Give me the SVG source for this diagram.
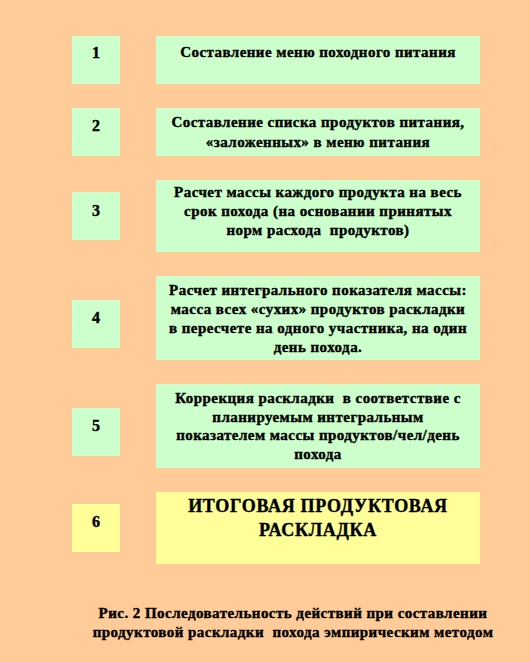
<svg xmlns="http://www.w3.org/2000/svg" width="530" height="662" viewBox="0 0 530 662">
<style>
.g{fill:#CCFFCC}
.y{fill:#FFFF99}
text{font-family:"Liberation Serif","Times New Roman",serif;font-weight:bold;fill:#000;stroke:#000;stroke-width:0.4;text-anchor:middle}
.n{font-size:16px}
.t{font-size:15px;letter-spacing:0.45px}
.b{font-size:18px;letter-spacing:0.7px}
</style>
<rect width="530" height="662" fill="#FFCC99"/>
<g id="n1"><rect class="g" x="72" y="36" width="48" height="48"/><text class="n" x="96" y="58">1</text></g>
<g id="s1"><rect class="g" x="156" y="36" width="324" height="48"/><text class="t" x="318" y="57">Составление меню походного питания</text></g>
<g id="n2"><rect class="g" x="72" y="108" width="48" height="48"/><text class="n" x="96" y="131">2</text></g>
<g id="s2"><rect class="g" x="156" y="108" width="324" height="48"/><text class="t" x="318" y="127">Составление списка продуктов питания,</text><text class="t" x="318" y="147">«заложенных» в меню питания</text></g>
<g id="n3"><rect class="g" x="72" y="192" width="48" height="48"/><text class="n" x="96" y="216">3</text></g>
<g id="s3"><rect class="g" x="156" y="180" width="324" height="72"/><text class="t" x="318" y="197">Расчет массы каждого продукта на весь</text><text class="t" x="318" y="216">срок похода (на основании принятых</text><text class="t" x="318" y="235" xml:space="preserve">норм расхода  продуктов)</text></g>
<g id="n4"><rect class="g" x="72" y="300" width="48" height="48"/><text class="n" x="96" y="323">4</text></g>
<g id="s4"><rect class="g" x="156" y="276" width="324" height="84"/><text class="t" x="318" y="295">Расчет интегрального показателя массы:</text><text class="t" x="318" y="314">масса всех «сухих» продуктов раскладки</text><text class="t" x="318" y="333">в пересчете на одного участника, на один</text><text class="t" x="318" y="352">день похода.</text></g>
<g id="n5"><rect class="g" x="72" y="408" width="48" height="48"/><text class="n" x="96" y="431">5</text></g>
<g id="s5"><rect class="g" x="156" y="384" width="324" height="84"/><text class="t" x="318" y="403" xml:space="preserve">Коррекция раскладки  в соответствие с</text><text class="t" x="318" y="422">планируемым интегральным</text><text class="t" x="318" y="440">показателем массы продуктов/чел/день</text><text class="t" x="318" y="459">похода</text></g>
<g id="n6"><rect class="y" x="72" y="504" width="48" height="48"/><text class="n" x="96" y="527">6</text></g>
<g id="s6"><rect class="y" x="156" y="492" width="324" height="72"/><text class="b" x="318" y="512">ИТОГОВАЯ ПРОДУКТОВАЯ</text><text class="b" x="318" y="536">РАСКЛАДКА</text></g>
<g id="connectors"></g>
<g id="caption"><text class="t" x="293" y="618">Рис. 2 Последовательность действий при составлении</text><text class="t" x="293" y="637" xml:space="preserve">продуктовой раскладки  похода эмпирическим методом</text></g>
</svg>
